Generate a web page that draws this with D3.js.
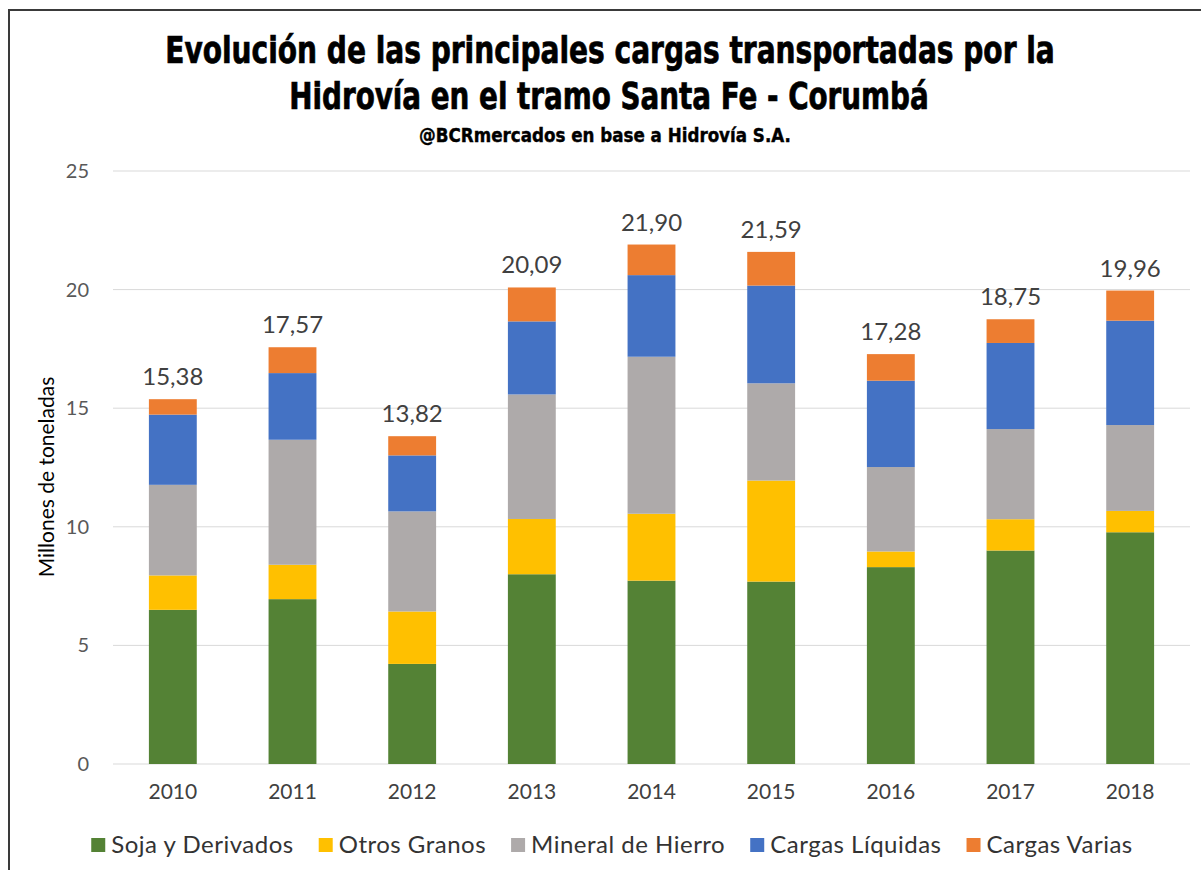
<!DOCTYPE html>
<html>
<head>
<meta charset="utf-8">
<script src="https://cdn.jsdelivr.net/npm/d3@7"></script>
<style>
  body { margin: 0; background: #fff; }
  text { font-family: Lato, "Open Sans", sans-serif; }
  .title { font-family: "Liberation Sans Narrow", "DejaVu Sans Condensed", sans-serif; font-weight: bold; fill: #000; stroke: #000; stroke-width: 0.7px; }
</style>
</head>
<body>
<svg id="chart"></svg>
<script>
const years = ["2010", "2011", "2012", "2013", "2014", "2015", "2016", "2017", "2018"];
const seriesNames = ["Soja y Derivados", "Otros Granos", "Mineral de Hierro", "Cargas Líquidas", "Cargas Varias"];
const soja     = [6.50, 6.95, 4.22, 8.00, 7.73, 7.69, 8.30, 9.00, 9.77];
const otros    = [1.45, 1.45, 2.21, 2.33, 2.82, 4.26, 0.66, 1.32, 0.90];
const hierro   = [3.82, 5.27, 4.22, 5.25, 6.62, 4.10, 3.56, 3.80, 3.62];
const liquidas = [2.96, 2.81, 2.36, 3.08, 3.44, 4.12, 3.64, 3.63, 4.40];
const varias   = [0.65, 1.09, 0.81, 1.43, 1.29, 1.42, 1.12, 1.00, 1.27];
const yTicks = [0, 5, 10, 15, 20, 25];
const colors = ["#548235", "#FFC000", "#AEAAAA", "#4472C4", "#ED7D31"];

const width = 1201;
const height = 870;

var svg = d3.select("#chart")
  .attr("width", width)
  .attr("height", height);

svg.append("rect").attr("width", width).attr("height", height).attr("fill", "#fff");

// frame (top + left edge of the original picture)
svg.append("path")
  .attr("d", "M9,870 V10 H1201")
  .attr("fill", "none")
  .attr("stroke", "#3a3a3a")
  .attr("stroke-width", 2);

// titles: condensed horizontally to the wanted width
function addTitle(txt, cx, cy, size, w) {
  var t = svg.append("text").attr("class", "title")
    .attr("text-anchor", "middle")
    .style("font-size", size + "px")
    .text(txt);
  var cur = t.node().getComputedTextLength();
  t.attr("transform", "translate(" + cx + "," + cy + ") scale(" + (w / cur).toFixed(3) + ",1)");
  return t;
}
addTitle("Evolución de las principales cargas transportadas por la", 610, 63, 38, 890);
addTitle("Hidrovía en el tramo Santa Fe - Corumbá", 609, 109, 38, 640);
addTitle("@BCRmercados en base a Hidrovía S.A.", 605, 142, 20, 372)
  .style("stroke-width", "0.4px");

// scales
var x = d3.scaleBand()
  .domain(years)
  .range([113, 1190])
  .paddingInner(0.6)
  .paddingOuter(0.3);

var y = d3.scaleLinear()
  .domain([0, 25])
  .range([764, 171]);

// gridlines
svg.append("g")
  .selectAll("line")
  .data(yTicks)
  .enter().append("line")
  .attr("x1", 113).attr("x2", 1190)
  .attr("y1", function(d) { return y(d); })
  .attr("y2", function(d) { return y(d); })
  .attr("stroke", "#d9d9d9")
  .attr("stroke-width", 1);

// y axis labels
var yAxis = d3.axisLeft(y).tickValues(yTicks).tickSize(0).tickPadding(0);
var gy = svg.append("g").attr("transform", "translate(89,0)").call(yAxis);
gy.select(".domain").remove();
gy.selectAll("text")
  .style("font-family", "Lato, sans-serif")
  .style("font-size", "20px")
  .attr("fill", "#595959");

svg.append("text")
  .attr("transform", "translate(54,477) rotate(-90)")
  .attr("text-anchor", "middle")
  .style("font-size", "21px")
  .attr("fill", "#000")
  .text("Millones de toneladas");

// x axis labels
var xAxis = d3.axisBottom(x).tickSize(0).tickPadding(0);
var gx = svg.append("g").attr("transform", "translate(0,784)").call(xAxis);
gx.select(".domain").remove();
gx.selectAll("text")
  .style("font-family", "Lato, sans-serif")
  .style("font-size", "21px")
  .attr("fill", "#404040");

// stacked bars
var allSeries = [soja, otros, hierro, liquidas, varias];
var table = years.map(function(yr, i) {
  var row = { year: yr };
  seriesNames.forEach(function(s, k) { row[s] = allSeries[k][i]; });
  return row;
});
var stack = d3.stack().keys(seriesNames)(table);

svg.append("g")
  .selectAll("g")
  .data(stack)
  .enter().append("g")
  .attr("fill", function(d, k) { return colors[k]; })
  .selectAll("rect")
  .data(function(d) { return d; })
  .enter().append("rect")
  .attr("x", function(d) { return x(d.data.year); })
  .attr("y", function(d) { return y(d[1]); })
  .attr("width", x.bandwidth())
  .attr("height", function(d) { return y(d[0]) - y(d[1]); });

// totals
var totals = years.map(function(yr, i) {
  return d3.sum(allSeries, function(s) { return s[i]; });
});
svg.append("g")
  .selectAll("text")
  .data(totals)
  .enter().append("text")
  .attr("x", function(d, i) { return x(years[i]) + x.bandwidth() / 2; })
  .attr("y", function(d) { return y(d) - 14; })
  .attr("text-anchor", "middle")
  .style("font-size", "24px")
  .attr("fill", "#404040")
  .text(function(d) { return d.toFixed(2).replace(".", ","); });

// legend
var legend = svg.append("g").attr("transform", "translate(0,845)");
var lx = 0;
var gap = 25;
var items = legend.selectAll("g")
  .data(seriesNames)
  .enter().append("g");
items.append("rect")
  .attr("width", 14).attr("height", 14)
  .attr("y", -7)
  .attr("fill", function(d, k) { return colors[k]; });
items.append("text")
  .attr("x", 20)
  .attr("dy", "0.35em")
  .style("font-size", "24px")
  .style("letter-spacing", "0.5px")
  .attr("fill", "#333")
  .text(function(d) { return d; });
items.each(function() {
  var g = d3.select(this);
  g.attr("transform", "translate(" + lx + ",0)");
  lx += 20 + g.select("text").node().getComputedTextLength() + gap;
});
var legendWidth = lx - gap;
legend.attr("transform", "translate(" + (612 - legendWidth / 2) + ",845)");
</script>
</body>
</html>
